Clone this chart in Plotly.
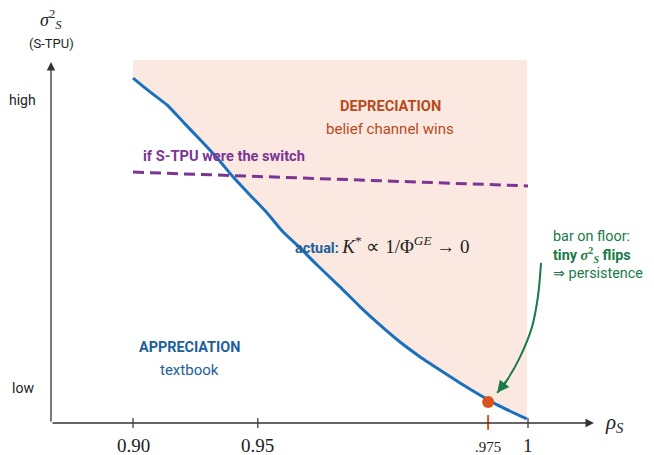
import plotly.graph_objects as go

# ---- data (schematic coordinates: u=0 at rho=0.90, u=1 at rho=1; v=0 floor, v=1 top) ----
tick_pos = [0.0, 0.316, 0.899, 1.0]
tick_text = ["0.90", "0.95", ".975", "1"]

curve_u = [0.0, 0.043, 0.086, 0.127, 0.170, 0.213, 0.253, 0.296, 0.339, 0.380, 0.423,
           0.466, 0.524, 0.575, 0.625, 0.676, 0.727, 0.777, 0.828, 0.878, 0.922, 0.997]
curve_v = [0.950, 0.912, 0.876, 0.829, 0.780, 0.730, 0.678, 0.628, 0.579, 0.526, 0.482,
           0.435, 0.375, 0.320, 0.270, 0.223, 0.182, 0.146, 0.110, 0.077, 0.050, 0.011]

stpu_u = [0.0, 1.0]
stpu_v = [0.691, 0.653]

dot_u = [0.899]
dot_v = [0.058]

arrow_u = [1.033, 1.025, 1.010, 0.980, 0.947, 0.922]
arrow_v = [0.441, 0.347, 0.264, 0.182, 0.118, 0.083]

y_levels = [0.89, 0.096]
y_level_text = ["high", "low"]

# colors
BLUE = "#1a70bd"
BLUE_T = "#1d5f9c"
ORANGE = "#b84a1c"
DOT = "#d9541e"
PURPLE = "#7b3594"
GREEN = "#1a7a48"
SHADE = "#fbe9e1"
AX = "#333333"
SANS = "Roboto"
SERIF = "Liberation Serif"

X_ORIG = -0.2076
X_END = 1.167
Y_END = 0.994

fig = go.Figure()

# shaded depreciation region (above curve)
fig.add_trace(go.Scatter(
    x=[0.0] + curve_u + [curve_u[-1], 0.0],
    y=[1.0] + curve_v + [1.0, 1.0],
    fill="toself", fillcolor=SHADE, line=dict(width=0),
    mode="lines", hoverinfo="skip", showlegend=False))

# S-TPU dashed line
fig.add_trace(go.Scatter(x=stpu_u, y=stpu_v, mode="lines",
                         line=dict(color=PURPLE, width=3, dash="11px,6px"),
                         showlegend=False, hoverinfo="skip"))

# actual curve
fig.add_trace(go.Scatter(x=curve_u, y=curve_v, mode="lines",
                         line=dict(color=BLUE, width=3, shape="spline", smoothing=0.5),
                         showlegend=False, hoverinfo="skip"))

# green curved arrow body
fig.add_trace(go.Scatter(x=arrow_u, y=arrow_v, mode="lines",
                         line=dict(color=GREEN, width=2, shape="spline"),
                         showlegend=False, hoverinfo="skip"))

# orange dot
fig.add_trace(go.Scatter(x=dot_u, y=dot_v, mode="markers",
                         marker=dict(color=DOT, size=12),
                         showlegend=False, hoverinfo="skip"))

# ticks
for p, t in zip(tick_pos, tick_text):
    small = (t == ".975")
    if small:
        fig.add_shape(type="line", x0=p, x1=p, y0=0.022, y1=-0.019,
                      line=dict(color=DOT, width=2))
    else:
        fig.add_shape(type="line", x0=p, x1=p, y0=0.014, y1=-0.014,
                      line=dict(color=AX, width=1.2))
    fig.add_annotation(x=p, y=-0.066 if small else -0.062, text=t, showarrow=False,
                       font=dict(family=SERIF, size=15 if small else 19, color="#222"),
                       xanchor="center", yanchor="middle")

# axes arrows
fig.add_annotation(x=X_END, y=0, ax=X_ORIG, ay=0, xref="x", yref="y", axref="x", ayref="y",
                   text="", showarrow=True, arrowhead=2, arrowsize=1.3, arrowwidth=1.3,
                   arrowcolor=AX, standoff=0)
fig.add_annotation(x=X_ORIG, y=Y_END, ax=X_ORIG, ay=0, xref="x", yref="y", axref="x", ayref="y",
                   text="", showarrow=True, arrowhead=2, arrowsize=1.3, arrowwidth=1.3,
                   arrowcolor=AX, standoff=0)

# green arrowhead
fig.add_annotation(x=arrow_u[-1], y=arrow_v[-1], ax=arrow_u[-2], ay=arrow_v[-2],
                   xref="x", yref="y", axref="x", ayref="y",
                   text="", showarrow=True, arrowhead=2, arrowsize=1.2, arrowwidth=2,
                   arrowcolor=GREEN, standoff=0)

# axis labels
fig.add_annotation(x=1.218, y=0, text="<i>ρ<sub>S</sub></i>", showarrow=False,
                   font=dict(family=SERIF, size=21, color="#222"), xanchor="center", yanchor="middle")
fig.add_annotation(x=X_ORIG, y=1.112, text="<i>σ</i><sup>2</sup><sub><i>S</i></sub>", showarrow=False,
                   font=dict(family=SERIF, size=18, color="#222"), xanchor="center", yanchor="middle")
fig.add_annotation(x=X_ORIG, y=1.044, text="(S-TPU)", showarrow=False,
                   font=dict(family=SANS, size=13, color="#222"), xanchor="center", yanchor="middle")
for lv, lt in zip(y_levels, y_level_text):
    fig.add_annotation(x=-0.279, y=lv, text=lt, showarrow=False,
                       font=dict(family=SANS, size=14, color="#222"), xanchor="center", yanchor="middle")

# region texts
fig.add_annotation(x=0.653, y=0.873, text="<b>DEPRECIATION</b>", showarrow=False,
                   font=dict(family=SANS, size=14.6, color=ORANGE))
fig.add_annotation(x=0.651, y=0.810, text="belief channel wins", showarrow=False,
                   font=dict(family=SANS, size=15, color=ORANGE))
fig.add_annotation(x=0.230, y=0.736, text="<b>if S-TPU were the switch</b>", showarrow=False,
                   font=dict(family=SANS, size=14.6, color=PURPLE))
fig.add_annotation(x=0.404, y=0.490, xanchor="left",
                   text="<b>actual:</b> <span style='font-family:Liberation Serif;font-size:19px;color:#222'>"
                        "<i>K</i><sup>*</sup> ∝ 1/Φ<sup><i>GE</i></sup> → 0</span>",
                   showarrow=False, font=dict(family=SANS, size=14.4, color=BLUE_T))
fig.add_annotation(x=0.142, y=0.209, text="<b>APPRECIATION</b>", showarrow=False,
                   font=dict(family=SANS, size=14.4, color=BLUE_T))
fig.add_annotation(x=0.142, y=0.146, text="textbook", showarrow=False,
                   font=dict(family=SANS, size=15, color=BLUE_T))
fig.add_annotation(x=1.062, y=0.463, xanchor="left", align="left", borderpad=0,
                   text="bar on floor:<br><b>tiny <span style='font-family:Liberation Serif'><i>σ</i><sup>2</sup><sub><i>S</i></sub></span> flips</b><br>⇒ persistence",
                   showarrow=False, font=dict(family=SANS, size=14.4, color=GREEN))

# page body has an 8px margin: figure is 646x447 placed at (8, 8)
fig.update_layout(
    width=646, height=447, autosize=False,
    margin=dict(l=0, r=0, t=0, b=0),
    paper_bgcolor="white", plot_bgcolor="white",
    xaxis=dict(range=[-0.3165, 1.319], visible=False, fixedrange=True),
    yaxis=dict(range=[-0.0882, 1.143], visible=False, fixedrange=True),
    showlegend=False,
)

fig.write_html("out.html", config={"displayModeBar": False})
